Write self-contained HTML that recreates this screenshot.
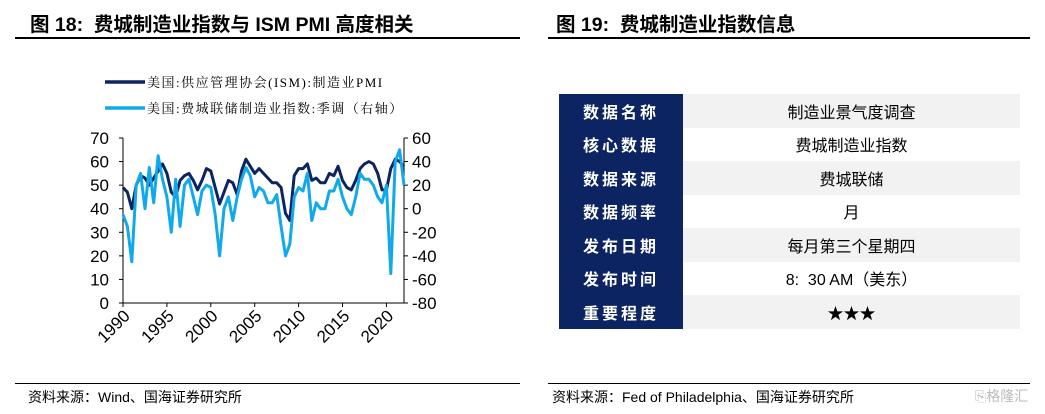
<!DOCTYPE html>
<html><head><meta charset="utf-8"><style>
body{margin:0;width:1045px;height:414px;background:#fff;font-family:"Liberation Sans","Noto Sans CJK SC",sans-serif;position:relative;overflow:hidden}
.abs{position:absolute}
.title{font-weight:bold;font-size:19.5px;top:8px;color:#000}
.src{font-size:14px;top:387px;color:#000}
table{border-collapse:collapse;position:absolute;left:559px;top:94px;width:461px}
td{height:33.5px;padding:0;text-align:center;font-size:16px}
td.k{background:#0c2461;color:#fff;font-weight:bold;width:124px;letter-spacing:3px}
tr:nth-child(odd) td.v{background:#f2f2f2}
</style></head><body>
<div class="abs title" style="left:30px">图 18:&nbsp; 费城制造业指数与 ISM PMI 高度相关</div>
<div class="abs title" style="left:556px">图 19:&nbsp; 费城制造业指数信息</div>
<div class="abs" style="left:15px;top:37px;width:505px;height:1.5px;background:#000"></div>
<div class="abs" style="left:548px;top:37px;width:482px;height:1.5px;background:#000"></div>
<div class="abs" style="left:15px;top:383px;width:505px;height:1px;background:#000"></div>
<div class="abs" style="left:548px;top:383px;width:482px;height:1px;background:#000"></div>
<div class="abs src" style="left:28px">资料来源：Wind、国海证券研究所</div>
<div class="abs src" style="left:552px">资料来源：Fed of Philadelphia、国海证券研究所</div>
<div class="abs" style="left:975px;top:386px;font-size:14px;color:#bbb">⎘格隆汇</div>

<svg class="abs" style="left:0;top:0" width="540" height="380">
<g id="legend">
<line x1="105" y1="82" x2="145" y2="82" stroke="#0c2461" stroke-width="3.5"/>
<text x="147" y="87" font-size="13" letter-spacing="1.5" font-family="Liberation Serif,Noto Serif CJK SC,serif">美国:供应管理协会(ISM):制造业PMI</text>
<line x1="105" y1="108" x2="145" y2="108" stroke="#10aaea" stroke-width="3.5"/>
<text x="147" y="113" font-size="13" letter-spacing="1.5" font-family="Liberation Serif,Noto Serif CJK SC,serif">美国:费城联储制造业指数:季调（右轴）</text>
</g>
<g id="axes"></g><g id="series"></g>
</svg>
<script>
const years=[1990,1995,2000,2005,2010,2015,2020];
const leftTicks=[0,10,20,30,40,50,60,70];
const rightTicks=[-80,-60,-40,-20,0,20,40,60];
const ism=[49,47,40,50,54,53,50,53,56,59,55,47,45,52,54,55,52,48,52,57,56,49,42,47,52,51,46,56,61,58,55,57,55,53,51,51,49,38,35,54,57,57,59,52,53,51,51,55,54,58,52,49,48,52,57,59,60,59,55,48,48,57,61,60,58];
const philly=[-5,-15,-45,20,30,0,35,5,45,25,10,-20,25,-15,20,25,10,-5,15,20,18,-5,-40,0,10,-10,10,25,35,28,10,18,15,5,5,12,-15,-40,-30,10,18,15,30,-10,5,0,0,15,15,25,10,0,-5,10,30,25,25,20,10,5,20,-55,40,50,20];
const X0=123,XR=404,YT=138,YB=303,NS="http://www.w3.org/2000/svg";
const xs=y=>X0+(y-1990)*(XR-X0)/32;
const yl=v=>YB-(v/70)*(YB-YT);
const yr=v=>YB-((v+80)/140)*(YB-YT);
const ax=document.getElementById('axes'),se=document.getElementById('series');
function mk(tag,at,p){const e=document.createElementNS(NS,tag);for(const k in at)e.setAttribute(k,at[k]);p.appendChild(e);return e;}
let e=mk('path',{d:`M${X0},${YT}V${YB}H${XR}`,stroke:'#000',fill:'none'},ax);


e=mk('line',{x1:XR,y1:YT,x2:XR,y2:YB,stroke:'#000'},ax);


leftTicks.forEach(v=>{mk('line',{x1:X0-4,x2:X0,y1:yl(v),y2:yl(v),stroke:'#000'},ax);
 const t=mk('text',{x:X0-14,y:yl(v)+6,'text-anchor':'end','font-size':'17'},ax);t.textContent=v;
 
 });
rightTicks.forEach(v=>{mk('line',{x1:XR,x2:XR+4,y1:yr(v),y2:yr(v),stroke:'#000'},ax);
 const t=mk('text',{x:XR+8,y:yr(v)+6,'font-size':'17'},ax);t.textContent=v;
 
 });
years.forEach(y=>{mk('line',{x1:xs(y),x2:xs(y),y1:YB,y2:YB+4,stroke:'#000'},ax);
 const t=mk('text',{x:xs(y)+8,y:YB+14,'text-anchor':'end','font-size':'17',transform:`rotate(-45 ${xs(y)+8} ${YB+14})`},ax);t.textContent=y;
 
 });
function line(arr,f,col,name){const d=arr.map((v,i)=>(i?'L':'M')+xs(1990+i*0.5).toFixed(1)+','+f(v).toFixed(1)).join('');
 const p=mk('path',{d,stroke:col,'stroke-width':3,fill:'none','stroke-linejoin':'round'},se);
 
 }
line(ism,yl,'#0c2461','ism-pmi-line');
line(philly,yr,'#10aaea','philly-fed-line');
</script>

<table>
<tr><td class="k">数据名称</td><td class="v">制造业景气度调查</td></tr>
<tr><td class="k">核心数据</td><td class="v">费城制造业指数</td></tr>
<tr><td class="k">数据来源</td><td class="v">费城联储</td></tr>
<tr><td class="k">数据频率</td><td class="v">月</td></tr>
<tr><td class="k">发布日期</td><td class="v">每月第三个星期四</td></tr>
<tr><td class="k">发布时间</td><td class="v">8:&nbsp; 30 AM（美东）</td></tr>
<tr><td class="k">重要程度</td><td class="v">★★★</td></tr>
</table>
</body></html>
